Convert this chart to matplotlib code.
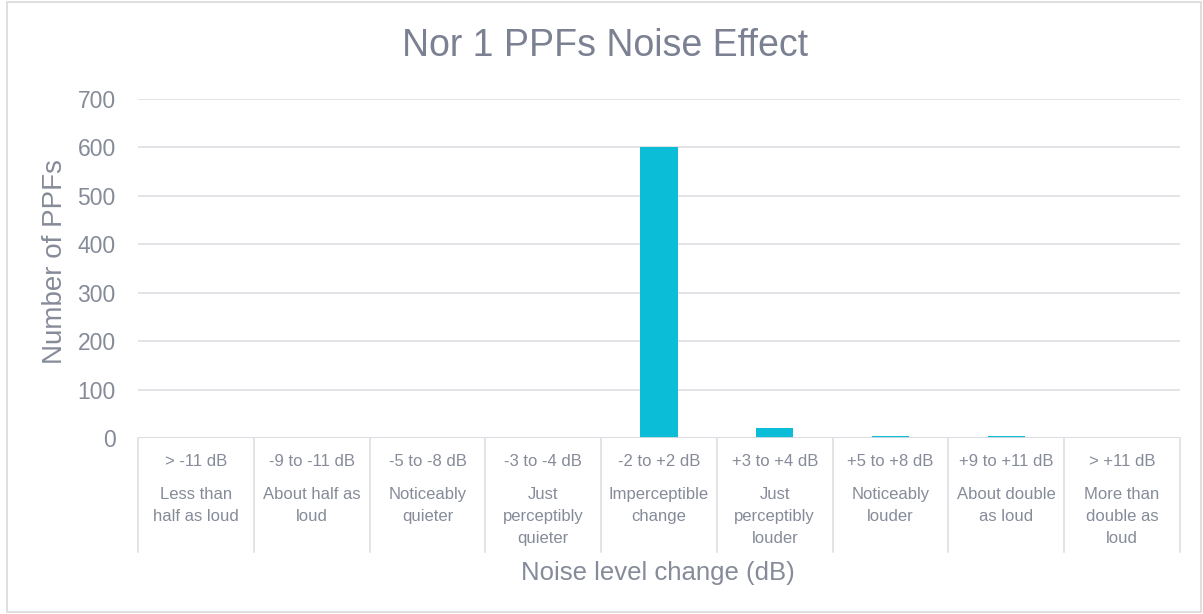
import matplotlib
matplotlib.use("Agg")
import matplotlib.pyplot as plt
from matplotlib.patches import Rectangle

plt.rcParams['font.family'] = ['Liberation Sans', 'DejaVu Sans']

# Data
ranges = ["> -11 dB", "-9 to -11 dB", "-5 to -8 dB", "-3 to -4 dB", "-2 to +2 dB",
          "+3 to +4 dB", "+5 to +8 dB", "+9 to +11 dB", "> +11 dB"]
descriptions = ["Less than\nhalf as loud", "About half as\nloud", "Noticeably\nquieter",
                "Just\nperceptibly\nquieter", "Imperceptible\nchange", "Just\nperceptibly\nlouder",
                "Noticeably\nlouder", "About double\nas loud", "More than\ndouble as\nloud"]
counts = [0, 0, 0, 0, 600, 21, 4, 4, 0]
yticks = [0, 100, 200, 300, 400, 500, 600, 700]

W, H = 1203, 614
fig = plt.figure(figsize=(W / 100, H / 100), dpi=100)
fig.patch.set_facecolor("white")

left_px, right_px, top_px, bottom_px = 138, 1180, 99, 438
ax = fig.add_axes([left_px / W, 1 - bottom_px / H,
                   (right_px - left_px) / W, (bottom_px - top_px) / H])

text_col = "#868b99"
title_col = "#7b8192"
grid_col = "#dcdde2"
bar_col = "#0bbdd6"

n = len(counts)
x = list(range(n))
ax.bar(x, counts, width=0.32, color=bar_col, zorder=3)
ax.set_xlim(-0.5, n - 0.5)
ax.set_ylim(0, 700)
ax.set_yticks(yticks)
ax.set_yticklabels([str(v) for v in yticks], fontsize=16.5, color=text_col)
ax.tick_params(axis='y', length=0, pad=16)
ax.set_xticks([])
ax.grid(axis='y', color=grid_col, linewidth=1.1, zorder=0)
for s in ax.spines.values():
    s.set_visible(False)
ax.axhline(0, color=grid_col, linewidth=1.3, zorder=4)

# Category table below the axis
px_per_cat = (right_px - left_px) / n
def fx(px):
    return px / W
def fy(py):
    return 1 - py / H

for i in range(n + 1):
    xp = left_px + i * px_per_cat
    fig.add_artist(plt.Line2D([fx(xp), fx(xp)], [fy(438), fy(552)],
                              color=grid_col, linewidth=1.1))
for i in range(n):
    xc = left_px + (i + 0.5) * px_per_cat
    fig.text(fx(xc), fy(461), ranges[i], ha='center', va='center',
             fontsize=12, color=text_col)
    fig.text(fx(xc), fy(487), descriptions[i], ha='center', va='top',
             fontsize=12, color=text_col, linespacing=1.58)

fig.text(fx(605), fy(46), "Nor 1 PPFs Noise Effect", ha='center', va='center',
         fontsize=27, color=title_col)
fig.text(fx(658), fy(573), "Noise level change (dB)", ha='center', va='center',
         fontsize=18.5, color=text_col)
fig.text(fx(55), fy(262), "Number of PPFs", ha='center', va='center',
         fontsize=20, color=text_col, rotation=90)

# Outer chart border
fig.add_artist(Rectangle((fx(7), fy(612)), fx(1194), 1 - fy(610), fill=False,
                         edgecolor="#d9d9d9", linewidth=1.2, transform=fig.transFigure))

fig.savefig("out.png", dpi=100, facecolor="white")
